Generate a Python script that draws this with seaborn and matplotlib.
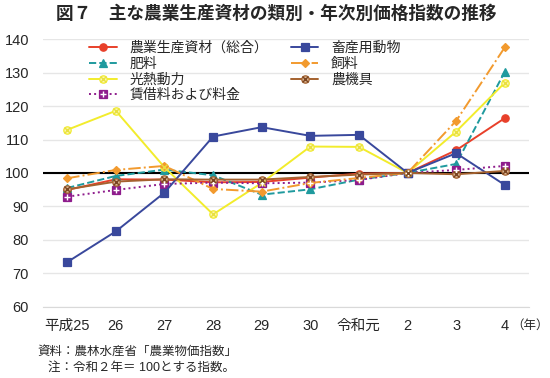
import numpy as np
import pandas as pd
import matplotlib
matplotlib.use("Agg")
import matplotlib.pyplot as plt
from matplotlib.legend_handler import HandlerTuple
import seaborn as sns

# ── data ────────────────────────────────────────────────────────────────────
YEARS = ["平成25", "26", "27", "28", "29", "30", "令和元", "2", "3", "4"]

total      = [94.9, 98.1, 98.0, 97.2, 97.3, 98.6, 99.8, 100.0, 106.8, 116.4]   # 農業生産資材(総合)
fertilizer = [95.5, 99.1, 101.0, 99.3, 93.5, 95.1, 98.0, 100.0, 102.7, 130.3]  # 肥料
energy     = [112.9, 118.6, 101.7, 87.6, 97.0, 107.9, 107.8, 100.0, 112.4, 127.0]  # 光熱動力
rent       = [92.9, 94.9, 96.7, 97.1, 96.9, 97.1, 97.9, 100.0, 100.9, 102.1]   # 賃借料および料金
livestock  = [73.3, 82.5, 94.1, 110.9, 113.7, 111.1, 111.4, 100.0, 105.9, 96.4]  # 畜産用動物
feed       = [98.4, 100.9, 102.1, 95.2, 94.4, 97.0, 98.5, 100.0, 115.6, 137.6]  # 飼料
machinery  = [95.1, 97.4, 98.1, 98.0, 98.0, 98.8, 99.5, 100.0, 99.6, 100.6]    # 農機具

# legend order (column-major, 2 columns)
SERIES = [
    ("農業生産資材（総合）", total,      "#e8402a", "-",  "o", "#e8402a"),
    ("肥料",               fertilizer, "#1f9a9e", "--", "^", "#1f9a9e"),
    ("光熱動力",           energy,     "#f2ec2c", "-",  "o", "#fbf7b0"),
    ("賃借料および料金",    rent,       "#8e1c8c", ":",  "s", "#8e1c8c"),
    ("畜産用動物",         livestock,  "#39489c", "-",  "s", "#39489c"),
    ("飼料",               feed,       "#f29a2e", "-.", "D", "#f29a2e"),
    ("農機具",             machinery,  "#a5622f", "-",  "o", "#d9b48f"),
]
CROSS = {"光熱動力": ("x", "#e9e040"), "農機具": ("x", "#7a4421"),
         "賃借料および料金": ("+", "white")}

sns.set_style("white")
plt.rcParams["font.family"] = ["Liberation Sans", "Noto Sans CJK JP", "DejaVu Sans"]

fig = plt.figure(figsize=(5.5, 3.78), dpi=100)
ax = fig.add_axes([0.078, 0.189, 0.884, 0.707])

x = np.arange(len(YEARS))
handles, labels = [], []
for label, vals, color, ls, mk, face in SERIES:
    df = pd.DataFrame({"x": x, "y": vals})
    ms = 4.2 if mk == "D" else 5.3
    sns.lineplot(data=df, x="x", y="y", ax=ax, color=color, linestyle=ls,
                 linewidth=1.4, marker=mk, markersize=ms,
                 markerfacecolor=face, markeredgecolor=color,
                 markeredgewidth=0.9, zorder=3)
    line = ax.lines[-1]
    h = line
    if label in CROSS:
        cm, cc = CROSS[label]
        (cross,) = ax.plot(x, vals, linestyle="none", marker=cm,
                           markersize=4.0 if cm == "x" else 5.0,
                           markeredgecolor=cc, markeredgewidth=1.0, zorder=4)
        h = (line, cross)
    handles.append(h)
    labels.append(label)

ax.axhline(100, color="black", linewidth=1.5, zorder=2)

ax.set_xlim(-0.5, len(YEARS) - 0.5)
ax.set_ylim(60, 140)
ax.set_yticks(range(60, 141, 10))
ax.yaxis.grid(True, color="#e6e6e6", linewidth=1.0)
ax.xaxis.grid(False)
for s in ["top", "right", "left"]:
    ax.spines[s].set_visible(False)
ax.spines["bottom"].set_color("#d9d9d9")
ax.set_xticks(x)
ax.set_xticklabels(YEARS)
ax.set_xticks(np.arange(-0.5, len(YEARS)), minor=True)
ax.tick_params(axis="x", which="major", length=0, pad=9, labelsize=10.5)
ax.tick_params(axis="x", which="minor", direction="in", length=5, color="#d9d9d9")
ax.tick_params(axis="y", length=0, pad=10, labelsize=10.5)
ax.set_xlabel("")
ax.set_ylabel("")

ax.legend(handles, labels, loc="upper left", bbox_to_anchor=(0.07, 1.04), ncol=2,
          frameon=False, fontsize=10, handlelength=2.0,
          handletextpad=0.9, columnspacing=1.6, labelspacing=0.12,
          handler_map={tuple: HandlerTuple(ndivide=1)})

fig.text(0.503, 0.962, "図７　主な農業生産資材の類別・年次別価格指数の推移",
         ha="center", va="center", fontsize=12.7, fontweight="bold")
fig.text(0.929, 0.137, "（年）", ha="left", va="center", fontsize=9)
fig.text(0.068, 0.069, "資料：農林水産省「農業物価指数」", ha="left", va="center", fontsize=9)
fig.text(0.088, 0.026, "注：令和２年＝ 100とする指数。", ha="left", va="center", fontsize=9)

fig.savefig("out.png", dpi=100)
